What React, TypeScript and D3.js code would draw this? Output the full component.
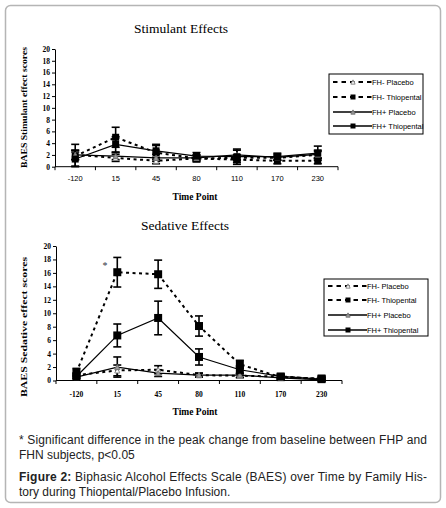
import React, { useEffect, useRef } from 'react';
import * as d3 from 'd3';

// time points (x categories)
const timePoints = ['-120', '15', '45', '80', '110', '170', '230'];
const yTicks = [0, 2, 4, 6, 8, 10, 12, 14, 16, 18, 20];

const seriesNames = ['FH- Placebo', 'FH- Thiopental', 'FH+ Placebo', 'FH+ Thiopental'];

// Stimulant effects: means and error (±)
const stimFhNegPlacebo = [2.0, 1.5, 1.0, 1.4, 1.5, 1.5, 2.0];
const stimFhNegPlaceboErr = [0.8, 0.6, 0.5, 0.4, 0.5, 0.4, 0.6];
const stimFhNegThio = [1.8, 5.0, 2.4, 1.4, 1.2, 1.0, 1.0];
const stimFhNegThioErr = [2.0, 1.7, 1.2, 0.6, 0.5, 0.5, 0.5];
const stimFhPosPlacebo = [2.0, 1.8, 1.5, 1.5, 2.0, 1.6, 2.1];
const stimFhPosPlaceboErr = [0.8, 0.6, 0.6, 0.5, 0.8, 0.5, 0.7];
const stimFhPosThio = [1.3, 3.8, 2.7, 1.8, 1.7, 1.7, 2.3];
const stimFhPosThioErr = [1.2, 1.3, 1.1, 0.6, 1.3, 0.6, 1.2];

// Sedative effects
const sedFhNegPlacebo = [0.8, 1.5, 1.6, 0.8, 0.7, 0.6, 0.2];
const sedFhNegPlaceboErr = [0.3, 0.8, 0.6, 0.3, 0.3, 0.2, 0.2];
const sedFhNegThio = [1.2, 16.1, 15.8, 8.1, 2.4, 0.5, 0.3];
const sedFhNegThioErr = [0.6, 2.2, 2.1, 1.5, 0.6, 0.3, 0.3];
const sedFhPosPlacebo = [0.5, 2.0, 1.1, 0.8, 0.8, 0.4, 0.1];
const sedFhPosPlaceboErr = [0.2, 1.5, 0.5, 0.3, 0.3, 0.2, 0.1];
const sedFhPosThio = [0.6, 6.7, 9.3, 3.5, 1.6, 0.6, 0.2];
const sedFhPosThioErr = [0.3, 1.7, 2.5, 1.2, 0.6, 0.3, 0.2];

const serif = '"Liberation Serif", "Times New Roman", serif';
const sans = '"Liberation Sans", Arial, sans-serif';

interface Style {
  dash: string | null;
  width: number;
  marker: 'openTri' | 'grayTri' | 'square';
}

const styles: Style[] = [
  { dash: '3,3.5', width: 2, marker: 'openTri' },
  { dash: '3,3.5', width: 2, marker: 'square' },
  { dash: null, width: 1.2, marker: 'grayTri' },
  { dash: null, width: 1.2, marker: 'square' },
];

interface Panel {
  title: string;
  yLabel: string;
  values: number[][];
  errors: number[][];
  titleX: number;
  titleY: number;
  x0: number;
  x1: number;
  yTop: number;
  yBottom: number;
  tickLabelY: number;
  xLabelFont: string;
  timeY: number;
  yLabelCY: number;
  yLabelLen: number;
  legend: { x: number; y: number; w: number; h: number; rows: number[] };
  star?: { x: number; y: number };
}

const panels: Panel[] = [
  {
    title: 'Stimulant Effects',
    yLabel: 'BAES Stimulant effect scores',
    values: [stimFhNegPlacebo, stimFhNegThio, stimFhPosPlacebo, stimFhPosThio],
    errors: [stimFhNegPlaceboErr, stimFhNegThioErr, stimFhPosPlaceboErr, stimFhPosThioErr],
    titleX: 181, titleY: 33,
    x0: 55, x1: 338, yTop: 49, yBottom: 166.7,
    tickLabelY: 181, xLabelFont: sans, timeY: 200,
    yLabelCY: 107.5, yLabelLen: 121,
    legend: { x: 329, y: 74, w: 94, h: 60, rows: [82, 97, 112, 126] },
  },
  {
    title: 'Sedative Effects',
    yLabel: 'BAES Sedative effect scores',
    values: [sedFhNegPlacebo, sedFhNegThio, sedFhPosPlacebo, sedFhPosThio],
    errors: [sedFhNegPlaceboErr, sedFhNegThioErr, sedFhPosPlaceboErr, sedFhPosThioErr],
    titleX: 185, titleY: 230,
    x0: 56, x1: 342, yTop: 246, yBottom: 380.5,
    tickLabelY: 397, xLabelFont: serif, timeY: 415,
    yLabelCY: 327, yLabelLen: 140,
    legend: { x: 324, y: 279, w: 104, h: 57, rows: [286, 300, 315, 330] },
    star: { x: 105, y: 269 },
  },
];

function drawMarker(g: d3.Selection<SVGGElement, unknown, null, undefined>, kind: string, x: number, y: number, size: number) {
  if (kind === 'square') {
    g.append('rect')
      .attr('x', x - size / 2).attr('y', y - size / 2)
      .attr('width', size).attr('height', size)
      .attr('fill', '#000');
  } else {
    const s = size * 0.85;
    const pts = [[x, y - s / 2], [x - s / 2, y + s / 2], [x + s / 2, y + s / 2]];
    g.append('path')
      .attr('d', 'M' + pts.map(p => p.join(',')).join('L') + 'Z')
      .attr('fill', kind === 'grayTri' ? '#9a9a9a' : '#fff')
      .attr('stroke', kind === 'grayTri' ? '#777' : '#888')
      .attr('stroke-width', 1);
  }
}

const App: React.FC = () => {
  const svgRef = useRef<SVGSVGElement | null>(null);

  useEffect(() => {
    if (!svgRef.current) return;
    const svg = d3.select(svgRef.current);
    svg.selectAll('*').remove();

    // outer frame
    svg.append('rect')
      .attr('x', 5.5).attr('y', 5.5).attr('width', 435).attr('height', 497)
      .attr('rx', 5).attr('fill', '#fff')
      .attr('stroke', '#b5b5b5').attr('stroke-width', 1.5);

    panels.forEach(p => {
      const g = svg.append('g');

      const xScale = d3.scaleBand().domain(timePoints).range([p.x0, p.x1]);
      const yScale = d3.scaleLinear().domain([0, 20]).range([p.yBottom, p.yTop]);
      const cx = (t: string) => (xScale(t) || 0) + xScale.bandwidth() / 2;
      const sq = p.yTop > 200 ? 8 : 7;

      g.append('text')
        .attr('x', p.titleX).attr('y', p.titleY)
        .attr('text-anchor', 'middle')
        .style('font-family', serif).style('font-size', '13.5px')
        .text(p.title);

      // y axis
      const yAxis = g.append('g')
        .attr('transform', `translate(${p.x0},0)`)
        .call(d3.axisLeft(yScale).tickValues(yTicks).tickSize(3).tickSizeOuter(0));
      yAxis.select('.domain').attr('stroke', '#000').attr('stroke-width', 1);
      yAxis.selectAll('text')
        .style('font-family', serif).style('font-size', '7.5px').style('font-weight', 'bold')
        .attr('x', -5);

      // x axis with ticks between categories
      g.append('line')
        .attr('x1', p.x0).attr('x2', p.x1)
        .attr('y1', p.yBottom).attr('y2', p.yBottom)
        .attr('stroke', '#000');
      g.selectAll('.xtick')
        .data(timePoints.map((_, i) => i).concat([timePoints.length]))
        .enter().append('line')
        .attr('x1', i => p.x0 + i * xScale.step())
        .attr('x2', i => p.x0 + i * xScale.step())
        .attr('y1', p.yBottom).attr('y2', p.yBottom + 3.5)
        .attr('stroke', '#000');
      g.selectAll('.xlabel')
        .data(timePoints).enter().append('text')
        .attr('x', d => cx(d)).attr('y', p.tickLabelY)
        .attr('text-anchor', 'middle')
        .style('font-family', p.xLabelFont).style('font-size', '7.5px')
        .style('font-weight', p.xLabelFont === serif ? 'bold' : 'normal')
        .text(d => d);

      g.append('text')
        .attr('x', 195).attr('y', p.timeY)
        .attr('text-anchor', 'middle')
        .style('font-family', serif).style('font-size', '9.5px').style('font-weight', 'bold')
        .text('Time Point');

      g.append('text')
        .attr('transform', `translate(27,${p.yLabelCY}) rotate(-90)`)
        .attr('text-anchor', 'middle')
        .attr('textLength', p.yLabelLen).attr('lengthAdjust', 'spacingAndGlyphs')
        .style('font-family', serif).style('font-size', '8.5px').style('font-weight', 'bold')
        .text(p.yLabel);

      // error bars
      p.values.forEach((vals, si) => {
        vals.forEach((v, i) => {
          const e = p.errors[si][i];
          const x = cx(timePoints[i]);
          const y1 = yScale(Math.max(0, v - e));
          const y2 = yScale(v + e);
          const eg = g.append('g').attr('stroke', '#000').attr('stroke-width', 1.6);
          eg.append('line').attr('x1', x).attr('x2', x).attr('y1', y1).attr('y2', y2);
          eg.append('line').attr('x1', x - 4).attr('x2', x + 4).attr('y1', y1).attr('y2', y1);
          eg.append('line').attr('x1', x - 4).attr('x2', x + 4).attr('y1', y2).attr('y2', y2);
        });
      });

      // lines
      const line = d3.line<number>()
        .x((_, i) => cx(timePoints[i]))
        .y(d => yScale(d));
      p.values.forEach((vals, si) => {
        const st = styles[si];
        g.append('path')
          .attr('d', line(vals) || '')
          .attr('fill', 'none')
          .attr('stroke', '#000')
          .attr('stroke-width', st.width)
          .attr('stroke-dasharray', st.dash);
      });

      // markers
      p.values.forEach((vals, si) => {
        vals.forEach((v, i) => {
          drawMarker(g, styles[si].marker, cx(timePoints[i]), yScale(v), styles[si].marker === 'square' ? sq : 6);
        });
      });

      if (p.star) {
        g.append('text')
          .attr('x', p.star.x).attr('y', p.star.y)
          .attr('text-anchor', 'middle')
          .style('font-family', serif).style('font-size', '10px').attr('fill', '#334')
          .text('*');
      }

      // legend
      const L = p.legend;
      g.append('rect')
        .attr('x', L.x).attr('y', L.y).attr('width', L.w).attr('height', L.h)
        .attr('fill', '#fff').attr('stroke', '#000').attr('stroke-width', 1);
      seriesNames.forEach((name, si) => {
        const st = styles[si];
        const ry = L.rows[si];
        g.append('line')
          .attr('x1', L.x + 4).attr('x2', L.x + 43)
          .attr('y1', ry).attr('y2', ry)
          .attr('stroke', '#000').attr('stroke-width', st.dash ? 2 : 1.5)
          .attr('stroke-dasharray', st.dash ? '4.5,4' : null);
        drawMarker(g, st.marker, L.x + 24, ry, st.marker === 'square' ? 5 : 5);
        g.append('text')
          .attr('x', L.x + 43).attr('y', ry + 2.6)
          .style('font-family', sans).style('font-size', '7.5px')
          .text(name);
      });
    });

    // caption text
    const cap = svg.append('g').style('font-family', sans).style('font-size', '12px').attr('fill', '#222');
    cap.append('text').attr('x', 19).attr('y', 444).attr('textLength', 408).attr('lengthAdjust', 'spacing')
      .text('* Significant difference in the peak change from baseline between FHP and');
    cap.append('text').attr('x', 19).attr('y', 459).text('FHN subjects, p<0.05');
    const fig = cap.append('text').attr('x', 19).attr('y', 481).attr('textLength', 408).attr('lengthAdjust', 'spacing');
    fig.append('tspan').style('font-weight', 'bold').text('Figure 2:');
    fig.append('tspan').text(' Biphasic Alcohol Effects Scale (BAES) over Time by Family His-');
    cap.append('text').attr('x', 19).attr('y', 496).text('tory during Thiopental/Placebo Infusion.');
  }, []);

  return (
    <svg
      ref={svgRef}
      width={446}
      height={508}
      style={{ position: 'absolute', left: 0, top: 0, background: '#fff' }}
    />
  );
};

export default App;
